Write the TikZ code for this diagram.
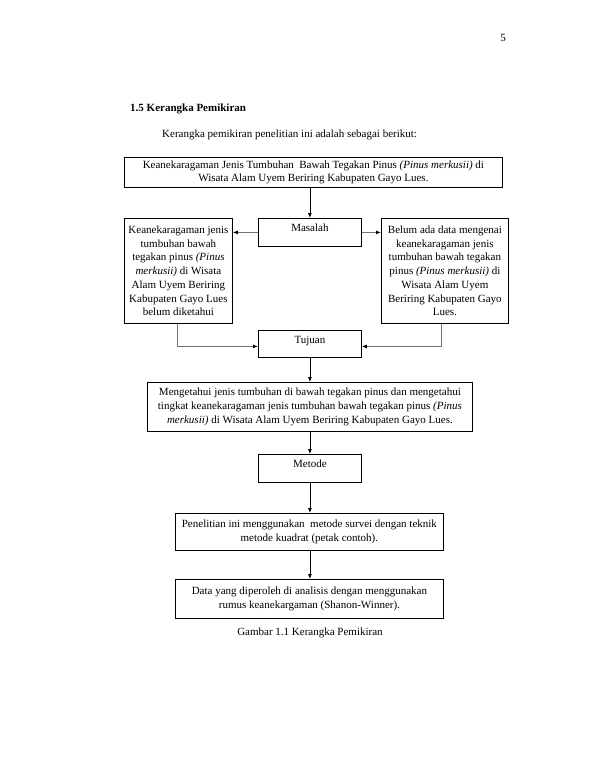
\documentclass[tikz,border=0pt]{standalone}
\usepackage{fontspec}
\setmainfont{Liberation Serif}
\usetikzlibrary{arrows.meta}
\begin{document}
\begin{tikzpicture}[x=1pt,y=-1pt, font=\fontsize{11}{13.7}\selectfont,
  box/.style={draw, line width=0.8pt, inner sep=3pt, align=center, anchor=north west},
  lbl/.style={inner sep=0pt},
  arr/.style={-{Latex[length=5pt,width=4pt]}, line width=0.8pt},
  garr/.style={-{Latex[length=5pt,width=4pt,color=black]}, line width=1pt, draw=black!55}]
\useasboundingbox (0,0) rectangle (595,770);
\node[lbl, anchor=base east] (pg) at (506,42) {5};
\node[lbl, anchor=base west, font=\fontsize{11}{13.7}\selectfont\bfseries] (head) at (130,112) {1.5 Kerangka Pemikiran};
\node[lbl, anchor=base west] (intro) at (162,138) {Kerangka pemikiran penelitian ini adalah sebagai berikut:};

\node[box, minimum width=378, minimum height=30] (b1) at (124,157)
  {Keanekaragaman Jenis Tumbuhan\ \ Bawah Tegakan Pinus \textit{(Pinus merkusii)} di\\Wisata Alam Uyem Beriring Kabupaten Gayo Lues.};

\node[box, minimum width=103, text height=10pt, text depth=12pt] (mas) at (258,218) {Masalah};
\node[box, minimum width=108, minimum height=105] (lb) at (124,218)
  {Keanekaragaman jenis\\tumbuhan bawah\\tegakan pinus \textit{(Pinus}\\\textit{merkusii)} di Wisata\\Alam Uyem Beriring\\Kabupaten Gayo Lues\\belum diketahui};
\node[box, minimum width=127, minimum height=105] (rb) at (381,218)
  {Belum ada data mengenai\\keanekaragaman jenis\\tumbuhan bawah tegakan\\pinus \textit{(Pinus merkusii)} di\\Wisata Alam Uyem\\Beriring Kabupaten Gayo\\Lues.};

\node[box, minimum width=103, text height=10pt, text depth=11pt] (tuj) at (258,330) {Tujuan};

\node[box, minimum width=325, minimum height=49] (meng) at (147,382)
  {Mengetahui jenis tumbuhan di bawah tegakan pinus dan mengetahui\\tingkat keanekaragaman jenis tumbuhan bawah tegakan pinus \textit{(Pinus}\\\textit{merkusii)} di Wisata Alam Uyem Beriring Kabupaten Gayo Lues.};

\node[box, minimum width=103, text height=10pt, text depth=12pt] (met) at (258,454) {Metode};

\node[box, minimum width=268, minimum height=37] (pen) at (175,513)
  {Penelitian ini menggunakan\ \ metode survei dengan teknik\\metode kuadrat (petak contoh).};

\node[box, minimum width=268, minimum height=39] (dat) at (175,579)
  {Data yang diperoleh di analisis dengan menggunakan\\rumus keanekargaman (Shanon-Winner).};

\node[lbl] (cap) at (310,633) {Gambar 1.1 Kerangka Pemikiran};

\draw[arr] (b1.south -| mas.north) -- (mas.north);
\draw[garr] (mas.west) -- (mas.west -| lb.east);
\draw[garr] (mas.east) -- (mas.east -| rb.west);
\draw[garr] ([xshift=-1pt]lb.south) |- ([yshift=-2.5pt]tuj.west);
\draw[garr] ([xshift=-3pt]rb.south) |- ([yshift=-2.5pt]tuj.east);
\draw[arr] (tuj.south) -- (tuj.south |- meng.north);
\draw[arr] (meng.south -| met.north) -- (met.north);
\draw[arr] (met.south) -- (met.south |- pen.north);
\draw[arr] (pen.south -| met.south) -- (met.south |- dat.north);
\end{tikzpicture}
\end{document}
